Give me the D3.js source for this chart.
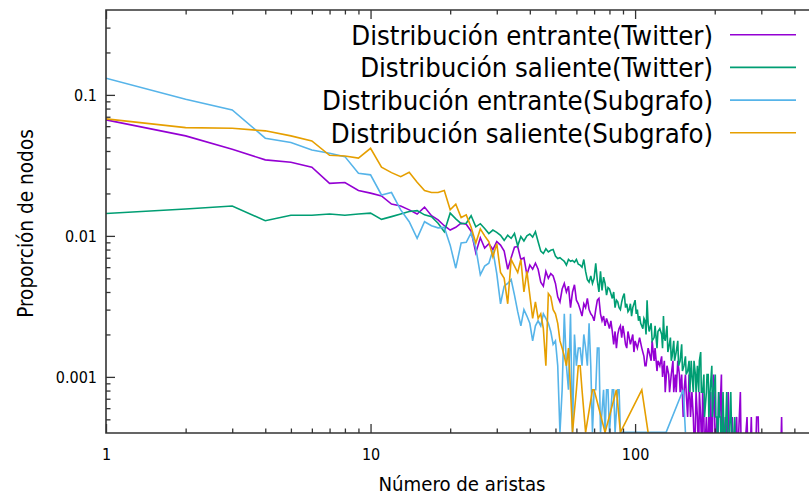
<!DOCTYPE html>
<html>
<head>
<meta charset="utf-8">
<script src="https://cdn.jsdelivr.net/npm/d3@7"></script>
<style>
  body { margin: 0; background: #fff; }
  svg { display: block; }
  text { font-family: "DejaVu Sans Condensed", "DejaVu Sans", sans-serif; font-stretch: condensed; fill: #000; }
</style>
</head>
<body>
<svg id="chart" width="809" height="497"></svg>
<script>
// Degree distributions: [número de aristas, proporción de nodos]
const entranteTwitter = [
  [1,0.0665],[2,0.0512],[3,0.0412],[4,0.0346],[5,0.0333],[6,0.0307],[7,0.0236],[8,0.0239],[9,0.0210],[10,0.0201],
  [11,0.0192],[12,0.0168],[13,0.0163],[14,0.0153],[15,0.0143],[16,0.0160],[17,0.0139],[18,0.0130],[19,0.0118],[20,0.0110],
  [21,0.0115],[22,0.0123],[23,0.0121],[24,0.0108],[25,0.0076],[26,0.0097],[27,0.0082],[28,0.0088],[29,0.0080],[30,0.0091],
  [31,0.0086],[32,0.0078],[33,0.0058],[34,0.0070],[35,0.0083],[36,0.0084],[37,0.0068],[38,0.0070],[39,0.0053],[40,0.0062],
  [41,0.0058],[42,0.0064],[43,0.0058],[44,0.0047],[45,0.0044],[46,0.0056],[47,0.0050],[48,0.0054],[49,0.0052],[50,0.0046],
  [51,0.0037],[52,0.0034],[53,0.0042],[54,0.0046],[55,0.0040],[56,0.0044],[57,0.0031],[58,0.0040],[59,0.0045],[60,0.0035],
  [61,0.0033],[62,0.0030],[63,0.0027],[64,0.0033],[65,0.0031],[66,0.0036],[67,0.0030],[68,0.0028],[69,0.0027],[70,0.0025],
  [71,0.0030],[72,0.0035],[73,0.0036],[74,0.0028],[75,0.0025],[76,0.0027],[77,0.0023],[78,0.0026],[79,0.0024],[80,0.0022],
  [81,0.0025],[82,0.0021],[83,0.0017],[84,0.0021],[85,0.0016],[86,0.0020],[87,0.0022],[88,0.0023],[89,0.0019],[90,0.0023],
  [91,0.0020],[92,0.0017],[93,0.0016],[94,0.0021],[95,0.0019],[96,0.0017],[98,0.0020],[99,0.0015],[100,0.0018],[102,0.0016],
  [104,0.0019],[106,0.0016],[108,0.0014],[109,0.0012],[110,0.0012],[112,0.0016],[113,0.0015],[115,0.0013],[116,0.0018],[118,0.0013],
  [119,0.0016],[121,0.0011],[122,0.0013],[124,0.0012],[126,0.0014],[127,0.0010],[129,0.0013],[130,0.00078],[132,0.0012],[134,0.00104],
  [135,0.00078],[137,0.00104],[139,0.0013],[140,0.00078],[142,0.00104],[143,0.00078],[145,0.0013],[147,0.00104],[148,0.00078],[150,0.00104],
  [152,0.00052],[153,0.00078],[155,0.00104],[156,0.00078],[158,0.00052],[160,0.00104],[162,0.00052],[164,0.00078],[166,0.00052],[168,0.00026],
  [170,0.00078],[172,0.00052],[174,0.00026],[175,0.00078],[177,0.00052],[179,0.00026],[180,0.00078],[182,0.00052],[183,0.00026],[186,0.00052],
  [188,0.00026],[190,0.00052],[191,0.00026],[193,0.00078],[195,0.00026],[198,0.00104],[200,0.00052],[201,0.00026],[204,0.00052],[205,0.00026],
  [207,0.00078],[209,0.00052],[212,0.00104],[213,0.00026],[216,0.00052],[218,0.00026],[220,0.00052],[222,0.00026],[225,0.00078],[226,0.00052],
  [228,0.00026],[233,0.00052],[235,0.00026],[242,0.00052],[244,0.00026],[250,0.00078],[252,0.00026],[258,0.00026],[265,0.00052],[267,0.00026],
  [272,0.00026],[275,0.00052],[277,0.00026],[285,0.00026],[288,0.00052],[292,0.00052],[294,0.00026],[355,0.00026],[358,0.00052],[360,0.00026]
];

const salienteTwitter = [
  [1,0.0144],[2,0.0155],[3,0.0163],[4,0.0128],[5,0.0140],[6,0.0140],[7,0.0143],[8,0.0140],[9,0.0143],[10,0.0145],
  [11,0.0131],[12,0.0137],[13,0.0143],[14,0.0149],[15,0.0151],[16,0.0141],[17,0.0137],[18,0.0123],[19,0.0107],[20,0.0145],
  [21,0.0132],[22,0.0122],[23,0.0123],[24,0.0139],[25,0.0116],[26,0.0122],[27,0.0113],[28,0.0104],[29,0.0110],[30,0.0106],
  [31,0.0101],[32,0.0093],[33,0.0101],[34,0.0096],[35,0.0104],[36,0.0085],[37,0.0099],[38,0.0092],[39,0.0100],[40,0.0103],
  [41,0.0098],[42,0.0107],[43,0.0091],[44,0.0078],[45,0.0075],[46,0.0081],[47,0.0077],[48,0.0079],[49,0.0080],[50,0.0072],
  [51,0.0069],[52,0.0070],[53,0.0068],[54,0.0066],[55,0.0062],[56,0.0068],[57,0.0066],[58,0.0067],[59,0.0065],[60,0.0068],
  [61,0.0063],[62,0.0062],[63,0.0060],[64,0.0068],[65,0.0056],[66,0.0049],[67,0.0047],[68,0.0052],[69,0.0046],[70,0.0050],
  [71,0.0064],[72,0.0048],[73,0.0040],[74,0.0056],[75,0.0041],[76,0.0051],[77,0.0046],[78,0.0038],[79,0.0043],[80,0.0042],
  [81,0.0039],[82,0.0036],[83,0.0040],[84,0.0031],[85,0.0035],[86,0.0034],[87,0.0031],[88,0.0030],[89,0.0034],[90,0.0037],
  [91,0.0039],[92,0.0031],[93,0.0033],[94,0.0029],[95,0.0030],[96,0.0033],[97,0.0027],[98,0.0031],[100,0.0035],[101,0.0028],
  [102,0.0030],[103,0.0025],[104,0.0027],[105,0.0024],[107,0.0022],[108,0.0026],[109,0.0025],[110,0.0020],[111,0.0035],[112,0.0024],
  [113,0.0021],[115,0.0024],[116,0.0018],[118,0.0019],[119,0.0023],[121,0.0016],[122,0.0021],[124,0.0022],[126,0.0020],[127,0.0016],
  [128,0.0027],[129,0.0019],[130,0.0018],[132,0.0023],[133,0.0015],[134,0.0016],[136,0.0019],[137,0.0013],[138,0.0014],[140,0.0018],
  [141,0.0013],[143,0.0015],[145,0.0018],[146,0.0012],[148,0.0013],[150,0.0017],[151,0.0011],[153,0.0012],[155,0.0014],[156,0.00104],
  [158,0.0011],[160,0.0013],[161,0.00078],[163,0.0013],[164,0.00104],[166,0.00078],[167,0.0013],[169,0.00104],[170,0.00078],[172,0.0012],
  [174,0.00078],[175,0.0013],[177,0.0015],[178,0.00078],[180,0.00078],[182,0.00104],[183,0.00052],[186,0.00078],[187,0.00104],[189,0.00104],
  [190,0.00052],[192,0.00078],[195,0.0012],[196,0.00052],[198,0.00078],[201,0.00104],[202,0.00052],[204,0.00052],[205,0.00026],[207,0.00078],
  [209,0.00052],[210,0.00052],[212,0.00026],[215,0.00078],[216,0.00052],[218,0.00026],[222,0.00078],[223,0.00052],[226,0.00026],[230,0.00078],
  [231,0.00052],[234,0.00026],[238,0.00052],[240,0.00026],[245,0.00026]
];

const entranteSubgrafo = [
  [1,0.1313],[2,0.0932],[3,0.0782],[4,0.0493],[5,0.0459],[6,0.0407],[7,0.0386],[8,0.0365],[9,0.0278],[10,0.0271],
  [11,0.0195],[12,0.0203],[13,0.0153],[14,0.0126],[15,0.0096],[16,0.0126],[17,0.0118],[18,0.0114],[19,0.0115],[20,0.0086],
  [21,0.0059],[22,0.0089],[23,0.0090],[24,0.0105],[25,0.0082],[26,0.0053],[27,0.0061],[28,0.0064],[29,0.0079],[30,0.0054],
  [31,0.0033],[32,0.0044],[33,0.0046],[34,0.0049],[35,0.0038],[36,0.0029],[37,0.0023],[38,0.0030],[39,0.0027],[40,0.0024],
  [41,0.0018],[42,0.0023],[43,0.0025],[44,0.0023],[45,0.0028],[46,0.0026],[47,0.0024],[48,0.0021],[49,0.0017],[50,0.0018],
  [51,0.0012],[52,0.000404],[53,0.00081],[54,0.0028],[55,0.0012],[56,0.00081],[57,0.0028],[58,0.000404],[59,0.0020],[60,0.0012],
  [61,0.0016],[62,0.0016],[63,0.0012],[64,0.0020],[65,0.0016],[66,0.0012],[67,0.0024],[68,0.0012],[69,0.000404],[70,0.00081],
  [71,0.00081],[72,0.0016],[73,0.0016],[74,0.000404],[76,0.00081],[77,0.000404],[78,0.00081],[79,0.00081],[80,0.000404],[82,0.00081],
  [83,0.00081],[84,0.000404],[86,0.00081],[87,0.00081],[88,0.000404],[95,0.000404],[104,0.000404],[112,0.000404],[131,0.000404],[152,0.00081],
  [155,0.000404]
];

const salienteSubgrafo = [
  [1,0.0676],[2,0.0586],[3,0.0580],[4,0.0556],[5,0.0512],[6,0.0472],[7,0.0373],[8,0.0369],[9,0.0356],[10,0.0418],
  [11,0.0307],[12,0.0281],[13,0.0263],[14,0.0283],[15,0.0240],[16,0.0210],[17,0.0203],[18,0.0203],[19,0.0210],[20,0.0153],
  [21,0.0168],[22,0.0135],[23,0.0141],[24,0.0115],[25,0.0089],[26,0.0112],[27,0.0100],[28,0.0091],[29,0.0071],[30,0.0088],
  [31,0.0055],[32,0.0050],[33,0.0033],[34,0.0068],[35,0.0061],[36,0.0055],[37,0.0068],[38,0.0040],[39,0.0056],[40,0.0038],
  [41,0.0026],[42,0.0034],[43,0.0026],[44,0.0028],[45,0.0022],[46,0.0012],[47,0.0039],[48,0.0037],[49,0.0030],[50,0.0028],
  [51,0.0024],[52,0.0018],[53,0.0016],[54,0.0014],[55,0.0012],[56,0.0016],[57,0.00081],[58,0.000404],[60,0.00081],[61,0.0012],
  [62,0.0012],[63,0.00081],[65,0.000404],[69,0.00081],[70,0.00081],[77,0.000404],[85,0.00081],[88,0.000404],[106,0.00081],[112,0.000404]
];

const seriesLabels = [
  "Distribución entrante(Twitter)",
  "Distribución saliente(Twitter)",
  "Distribución entrante(Subgrafo)",
  "Distribución saliente(Subgrafo)"
];
const seriesColors = ["#9400d3", "#009e73", "#56b4e9", "#e69f00"];

const xMajorTicks = [1, 10, 100];
const xMinorTicks = [2,3,4,5,6,7,8,9,20,30,40,50,60,70,80,90,200,300,400];
const yMajorTicks = [0.001, 0.01, 0.1];
const yMinorTicks = [0.0005,0.0006,0.0007,0.0008,0.0009,0.002,0.003,0.004,0.005,0.006,0.007,0.008,0.009,
                     0.02,0.03,0.04,0.05,0.06,0.07,0.08,0.09,0.2,0.3];

const xTitle = "Número de aristas";
const yTitle = "Proporción de nodos";

// ---- layout ----
const plot = { left: 106, top: 10, right: 820, bottom: 433 };

const svg = d3.select("#chart");

const x = d3.scaleLog().domain([1, 500]).range([plot.left, plot.right]);
const y = d3.scaleLog().domain([0.0004, 0.4]).range([plot.bottom, plot.top]);

svg.append("defs").append("clipPath").attr("id", "plot-clip")
  .append("rect")
  .attr("x", plot.left).attr("y", plot.top)
  .attr("width", plot.right - plot.left).attr("height", plot.bottom - plot.top);

// ---- data lines ----
const series = [entranteTwitter, salienteTwitter, entranteSubgrafo, salienteSubgrafo];
const line = d3.line().x(d => x(d[0])).y(d => y(d[1]));

const lines = svg.append("g").attr("clip-path", "url(#plot-clip)");
series.forEach((s, i) => {
  lines.append("path")
    .datum(s)
    .attr("d", line)
    .attr("fill", "none")
    .attr("stroke", seriesColors[i])
    .attr("stroke-width", 1.6)
    .attr("stroke-linejoin", "miter");
});

// ---- axes (ticks point inward) ----
const tickColor = "#333";
function styleAxis(g) {
  g.select(".domain").remove();
  g.selectAll(".tick line").attr("stroke", tickColor).attr("stroke-width", 1.3);
  g.selectAll(".tick text")
    .attr("font-family", '"DejaVu Sans Condensed","DejaVu Sans",sans-serif')
    .attr("font-size", 16).attr("fill", "#000");
}

svg.append("g").attr("transform", `translate(0,${plot.bottom})`)
  .call(d3.axisBottom(x).tickValues(xMajorTicks).tickFormat(d3.format("d")).tickSize(-9).tickPadding(16))
  .call(styleAxis);
svg.append("g").attr("transform", `translate(0,${plot.bottom})`)
  .call(d3.axisBottom(x).tickValues(xMinorTicks).tickFormat("").tickSize(-4.5))
  .call(styleAxis);
svg.append("g").attr("transform", `translate(0,${plot.top})`)
  .call(d3.axisTop(x).tickValues(xMajorTicks).tickFormat("").tickSize(-9))
  .call(styleAxis);
svg.append("g").attr("transform", `translate(0,${plot.top})`)
  .call(d3.axisTop(x).tickValues(xMinorTicks).tickFormat("").tickSize(-4.5))
  .call(styleAxis);

svg.append("g").attr("transform", `translate(${plot.left},0)`)
  .call(d3.axisLeft(y).tickValues(yMajorTicks).tickFormat(d => String(d)).tickSize(-9).tickPadding(9))
  .call(styleAxis);
svg.append("g").attr("transform", `translate(${plot.left},0)`)
  .call(d3.axisLeft(y).tickValues(yMinorTicks).tickFormat("").tickSize(-4.5))
  .call(styleAxis);

// ---- frame ----
svg.append("path")
  .attr("d", `M${plot.right},${plot.top}H${plot.left}V${plot.bottom}H${plot.right}`)
  .attr("fill", "none").attr("stroke", tickColor).attr("stroke-width", 1.6);

// ---- legend ----
const legend = svg.append("g");
seriesLabels.forEach((label, i) => {
  const cy = 34.7 + i * 32.7;
  legend.append("text")
    .attr("x", 713).attr("y", cy + 10)
    .attr("text-anchor", "end")
    .attr("font-size", 27.3)
    .text(label);
  legend.append("line")
    .attr("x1", 730).attr("x2", 796).attr("y1", cy).attr("y2", cy)
    .attr("stroke", seriesColors[i]).attr("stroke-width", 1.6);
});

// ---- axis titles ----
svg.append("text")
  .attr("x", 462).attr("y", 491)
  .attr("text-anchor", "middle")
  .attr("font-size", 20.2)
  .text(xTitle);

svg.append("text")
  .attr("transform", "translate(33,223.5) rotate(-90)")
  .attr("text-anchor", "middle")
  .attr("font-size", 20.6)
  .text(yTitle);
</script>
</body>
</html>
